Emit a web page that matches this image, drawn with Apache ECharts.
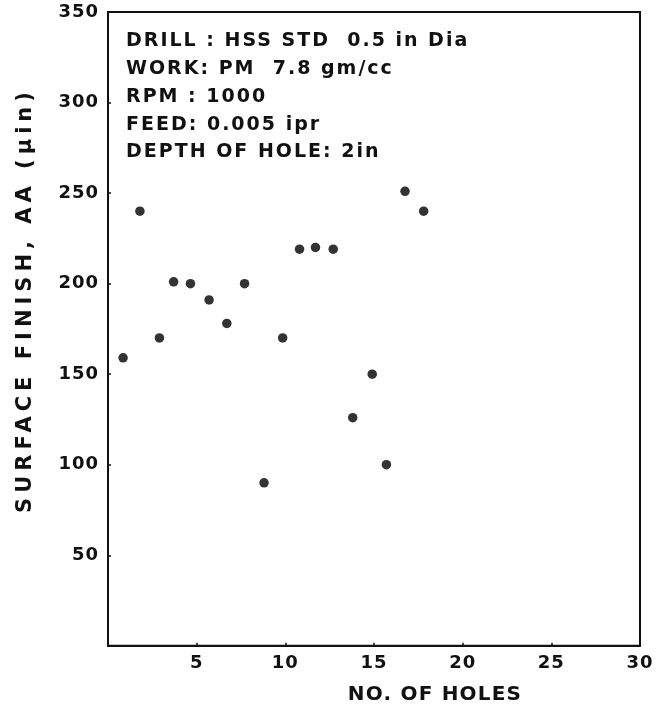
<!DOCTYPE html>
<html>
<head>
<meta charset="utf-8">
<script src="https://cdn.jsdelivr.net/npm/echarts@6/dist/echarts.min.js"></script>
<style>
html,body{margin:0;padding:0;background:#fff;}
#chart{width:657px;height:710px;}
</style>
</head>
<body>
<div id="chart"></div>
<script>
// Data
const holes = [0.85, 1.8, 2.9, 3.7, 4.65, 5.7, 6.7, 7.7, 8.8, 9.85, 10.8, 11.7, 12.7, 13.8, 14.9, 15.7, 16.75, 17.8];
const surfaceFinish = [159, 240, 170, 201, 200, 191, 178, 200, 90, 170, 219, 220, 219, 126, 150, 100, 251, 240];
const xTicks = [5, 10, 15, 20, 25, 30];
const yTicks = [50, 100, 150, 200, 250, 300, 350];
const notes = [
  'DRILL : HSS STD  0.5 in Dia',
  'WORK: PM  7.8 gm/cc',
  'RPM : 1000',
  'FEED: 0.005 ipr',
  'DEPTH OF HOLE: 2in'
];
const xTitle = 'NO. OF HOLES';
const yTitle = 'SURFACE FINISH, AA (\u03bcin)';

// The typeset lettering of the original is widely tracked: give each text size its own letter spacing.
(function () {
  const proto = CanvasRenderingContext2D.prototype;
  const desc = Object.getOwnPropertyDescriptor(proto, 'font');
  if (!desc || !('letterSpacing' in proto)) return;
  const spacing = {18: '1px', 19: '2px', 20: '1.2px', 21: '5px'};
  Object.defineProperty(proto, 'font', {
    configurable: true,
    get() { return desc.get.call(this); },
    set(v) {
      desc.set.call(this, v);
      const m = /(\d+(?:\.\d+)?)px/.exec(v);
      const s = m ? spacing[Math.round(parseFloat(m[1]))] : null;
      this.letterSpacing = s || '0px';
    }
  });
})();

const points = holes.map((h, i) => [h, surfaceFinish[i]]);
const FONT = 'DejaVu Sans';
const INK = '#111';

const chart = echarts.init(document.getElementById('chart'), null, {renderer: 'canvas'});
chart.setOption({
  animation: false,
  backgroundColor: '#fff',
  grid: {left: 108, right: 17, top: 12, bottom: 64, show: true, borderColor: INK, borderWidth: 2, backgroundColor: 'transparent'},
  xAxis: {
    type: 'value', min: 0, max: 30, interval: 5,
    name: xTitle, nameLocation: 'middle', nameGap: 38,
    nameTextStyle: {fontFamily: FONT, fontWeight: 'bold', fontSize: 20, color: INK, padding: [0, 0, 0, 122]},
    axisLine: {show: true, lineStyle: {color: INK, width: 2}},
    axisTick: {show: true, inside: true, length: 3, lineStyle: {color: INK, width: 1.5}},
    splitLine: {show: false},
    axisLabel: {fontFamily: FONT, fontWeight: 'bold', fontSize: 18, color: INK, margin: 8,
      formatter: v => xTicks.includes(v) ? String(v) : ''}
  },
  yAxis: {
    type: 'value', min: 0, max: 350, interval: 50,
    axisLine: {show: true, lineStyle: {color: INK, width: 2}},
    axisTick: {show: true, inside: true, length: 3, lineStyle: {color: INK, width: 1.5}},
    splitLine: {show: false},
    axisLabel: {fontFamily: FONT, fontWeight: 'bold', fontSize: 18, color: INK, margin: 9,
      formatter: v => yTicks.includes(v) ? String(v) : ''}
  },
  graphic: notes.map((t, i) => ({
    type: 'text', left: 126, top: 31 + i * 27.7,
    style: {text: t, font: 'bold 19px "DejaVu Sans"', fill: INK}
  })).concat([{
    type: 'text', x: 26, y: 300, rotation: Math.PI / 2,
    style: {text: yTitle, font: 'bold 21px "DejaVu Sans"', fill: INK, align: 'center', verticalAlign: 'middle'}
  }]),
  series: [{
    type: 'scatter',
    data: points,
    symbol: 'circle',
    symbolSize: 9.5,
    itemStyle: {color: '#000'}
  }]
});
</script>
</body>
</html>
